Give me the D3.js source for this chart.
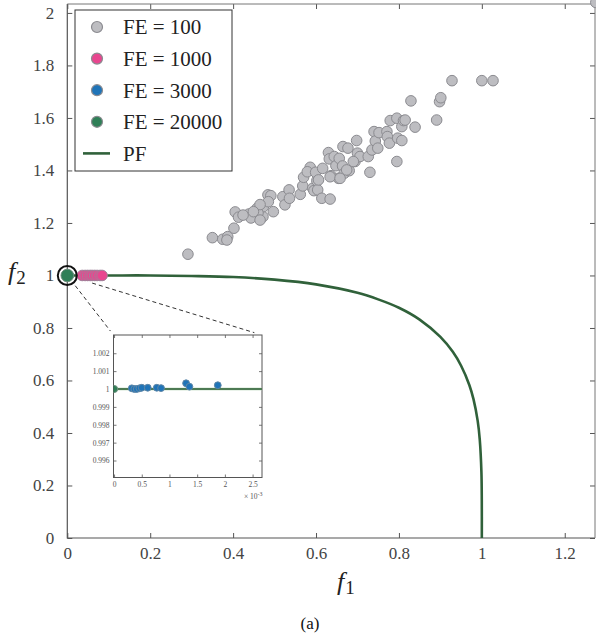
<!DOCTYPE html>
<html>
<head>
<meta charset="utf-8">
<script src="https://cdn.jsdelivr.net/npm/d3@7"></script>
<style>
  body { margin: 0; background: #fff; }
</style>
</head>
<body>
<svg id="chart" width="596" height="634"></svg>
<script>
// Data
const fe100 = [
  [0.291,1.081],[0.350,1.144],[0.375,1.138],[0.387,1.148],[0.385,1.135],[0.402,1.180],[0.405,1.242],
  [0.413,1.222],[0.438,1.234],[0.453,1.234],[0.458,1.256],[0.472,1.224],[0.473,1.262],[0.484,1.307],
  [0.491,1.304],[0.497,1.243],[0.485,1.281],[0.520,1.300],[0.525,1.269],[0.535,1.326],[0.536,1.294],
  [0.562,1.309],[0.568,1.341],[0.570,1.374],[0.586,1.412],[0.579,1.395],[0.592,1.332],[0.595,1.323],
  [0.602,1.361],[0.604,1.326],[0.614,1.294],[0.634,1.291],[0.599,1.393],[0.616,1.408],[0.630,1.468],
  [0.632,1.444],[0.636,1.380],[0.644,1.453],[0.648,1.418],[0.654,1.370],[0.656,1.446],[0.664,1.417],
  [0.665,1.491],[0.668,1.389],[0.677,1.485],[0.680,1.399],[0.694,1.434],[0.698,1.514],[0.700,1.466],
  [0.706,1.453],[0.726,1.453],[0.730,1.393],[0.735,1.478],[0.740,1.548],[0.743,1.512],[0.749,1.485],
  [0.752,1.544],[0.771,1.548],[0.772,1.529],[0.777,1.504],[0.779,1.590],[0.795,1.599],[0.795,1.434],
  [0.797,1.523],[0.807,1.567],[0.807,1.514],[0.811,1.590],[0.815,1.592],[0.829,1.665],[0.839,1.565],
  [0.891,1.592],[0.898,1.662],[0.901,1.677],[0.928,1.742],[1.000,1.742],[1.027,1.742],
  [0.634,1.376],[0.658,1.370],[0.690,1.434],[0.674,1.402],[0.606,1.364],[0.460,1.238],[0.443,1.219],
  [0.424,1.230],[0.465,1.211],[0.465,1.270],[0.449,1.243],[1.275,2.040]
];
const fe1000 = [
  [0.036,1.0],[0.043,1.0],[0.049,1.0],[0.055,1.0],[0.060,1.0],[0.066,1.0],[0.072,1.0],[0.079,1.0],[0.084,1.0]
];
const fe3000 = [
  [0.00032,1.00004],[0.000366,1.0],[0.00041,1.0],[0.000457,1.00004],[0.0005,1.00007],[0.000608,1.00007],
  [0.000771,1.00007],[0.000848,1.00005],[0.0013,1.00032],[0.00136,1.00013],[0.001872,1.00021]
];
const fe20000 = [[0, 1]];

const pfF1 = [0, 0.1, 0.2, 0.3, 0.4, 0.5, 0.6, 0.7, 0.75, 0.8, 0.85, 0.9, 0.93, 0.95, 0.97, 0.98, 0.99, 0.995, 0.999, 0.9999, 1.0];
const pfF2 = [1, 1.0, 1.0, 0.998, 0.994, 0.984, 0.966, 0.934, 0.909, 0.877, 0.832, 0.766, 0.709, 0.656, 0.582, 0.528, 0.446, 0.375, 0.251, 0.141, 0];

const xTicks = [0, 0.2, 0.4, 0.6, 0.8, 1, 1.2];
const yTicks = [0, 0.2, 0.4, 0.6, 0.8, 1, 1.2, 1.4, 1.6, 1.8, 2];
const insetXTicks = [0, 0.0005, 0.001, 0.0015, 0.002, 0.0025];
const insetYTicks = [0.996, 0.997, 0.998, 0.999, 1, 1.001, 1.002];

const legendItems = [
  { label: "FE = 100", type: "dot", color: "#bdbdc1" },
  { label: "FE = 1000", type: "dot", color: "#e8468f" },
  { label: "FE = 3000", type: "dot", color: "#1f74b8" },
  { label: "FE = 20000", type: "dot", color: "#2f7f57" },
  { label: "PF", type: "line", color: "#30613a" }
];

const pfData = pfF1.map((d, i) => [d, pfF2[i]]);
const axisColor = "#555";
const FONT = "'Liberation Serif'";

const svg = d3.select("#chart");

// Main plot scales
const plot = { left: 67.3, right: 595, top: 4, bottom: 538 };
const x = d3.scaleLinear().domain([0, 1.273]).range([plot.left, plot.right]);
const y = d3.scaleLinear().domain([0, 2.034]).range([plot.bottom, plot.top]);

function styleAxis(g) {
  g.attr("font-family", null);
  g.select(".domain").remove();
  g.selectAll(".tick line").attr("stroke", axisColor).attr("stroke-width", 1);
  g.selectAll(".tick text").attr("fill", "#444").style("font-family", FONT).style("font-size", "17px");
}

// Axes with inward ticks on all sides
svg.append("g")
  .attr("transform", `translate(0,${plot.bottom})`)
  .call(d3.axisBottom(x).tickValues(xTicks).tickFormat(d3.format("~g")).tickSizeInner(-5).tickSizeOuter(0).tickPadding(9))
  .call(styleAxis);
svg.append("g")
  .attr("transform", `translate(0,${plot.top})`)
  .call(d3.axisTop(x).tickValues(xTicks).tickFormat("").tickSizeInner(-5).tickSizeOuter(0))
  .call(styleAxis);
svg.append("g")
  .attr("transform", `translate(${plot.left},0)`)
  .call(d3.axisLeft(y).tickValues(yTicks).tickFormat(d3.format("~g")).tickSizeInner(-5).tickSizeOuter(0).tickPadding(13))
  .call(styleAxis);
svg.append("g")
  .attr("transform", `translate(${plot.right},0)`)
  .call(d3.axisRight(y).tickValues(yTicks).tickFormat("").tickSizeInner(-5).tickSizeOuter(0))
  .call(styleAxis);

// Left and bottom box lines
svg.append("path")
  .attr("d", `M${plot.left},${plot.top}V${plot.bottom}H${plot.right}`)
  .attr("fill", "none").attr("stroke", axisColor).attr("stroke-width", 1.2);
svg.append("path")
  .attr("d", `M${plot.left},${plot.top}H${plot.right}V${plot.bottom}`)
  .attr("fill", "none").attr("stroke", "#777").attr("stroke-width", 1);

// Axis labels
function labelText(px, py, sub) {
  const t = svg.append("text").attr("x", px).attr("y", py)
    .style("font-family", FONT).style("font-size", "26px").attr("fill", "#222");
  t.append("tspan").style("font-style", "italic").text("f");
  t.append("tspan").attr("dx", 1).attr("dy", 4).style("font-size", "19px").text(sub);
}
labelText(337, 590, "1");
labelText(8, 280, "2");

svg.append("text").attr("x", 310).attr("y", 629).attr("text-anchor", "middle")
  .style("font-family", FONT).style("font-size", "17px").attr("fill", "#111").text("(a)");

// Pareto front
const line = d3.line().x(d => x(d[0])).y(d => y(d[1])).curve(d3.curveCatmullRom);
svg.append("path").datum(pfData)
  .attr("d", line)
  .attr("fill", "none").attr("stroke", "#30613a").attr("stroke-width", 2.6);

// Points
function drawDots(parent, data, sx, sy, r, fill, stroke) {
  parent.append("g").selectAll("circle").data(data).join("circle")
    .attr("cx", d => sx(d[0])).attr("cy", d => sy(d[1])).attr("r", r)
    .attr("fill", fill).attr("stroke", stroke).attr("stroke-width", 1);
}
drawDots(svg, fe100, x, y, 5.3, "#bdbdc1", "#8b8b90");
drawDots(svg, fe1000, x, y, 5.3, "#e8468f", "#a0829a");
drawDots(svg, fe3000, x, y, 5.3, "#1f74b8", "#6f8aa0");
drawDots(svg, fe20000, x, y, 6.3, "#2f7f57", "#6f8f7d");

// Highlight ring around the converged point
const cx0 = x(0), cy0 = y(1);
svg.append("circle").attr("cx", cx0).attr("cy", cy0).attr("r", 9.5)
  .attr("fill", "none").attr("stroke", "#111").attr("stroke-width", 2);

// Inset
const inset = { left: 113.5, right: 262, top: 335, bottom: 477.5 };
const ix = d3.scaleLinear().domain([-0.00001, 0.00267]).range([inset.left, inset.right]);
const iy = d3.scaleLinear().domain([0.99505, 1.00302]).range([inset.bottom, inset.top]);

// dashed connectors
function connector(tx, ty, startGap, endGap) {
  const dx = tx - cx0, dy = ty - cy0, len = Math.hypot(dx, dy);
  svg.append("line")
    .attr("x1", cx0 + dx / len * startGap).attr("y1", cy0 + dy / len * startGap)
    .attr("x2", tx - dx / len * endGap).attr("y2", ty - dy / len * endGap)
    .attr("stroke", "#333").attr("stroke-width", 1).attr("stroke-dasharray", "4,3");
}
connector(inset.left, inset.top, 13, 5);
connector(inset.right, inset.top, 26, 8);

svg.append("rect").attr("x", inset.left).attr("y", inset.top)
  .attr("width", inset.right - inset.left).attr("height", inset.bottom - inset.top)
  .attr("fill", "#fff");

svg.append("clipPath").attr("id", "insetClip").append("rect")
  .attr("x", inset.left).attr("y", inset.top)
  .attr("width", inset.right - inset.left).attr("height", inset.bottom - inset.top);

function styleInset(g) {
  g.attr("font-family", null);
  g.select(".domain").remove();
  g.selectAll(".tick line").attr("stroke", axisColor).attr("stroke-width", 0.8);
  g.selectAll(".tick text").attr("fill", "#555").style("font-size", "7.5px").style("font-family", FONT);
}
svg.append("g").attr("transform", `translate(0,${inset.bottom})`)
  .call(d3.axisBottom(ix).tickValues(insetXTicks).tickFormat(d => d3.format("~g")(+(d * 1000).toFixed(1))).tickSizeInner(-3).tickSizeOuter(0).tickPadding(4))
  .call(styleInset);
svg.append("g").attr("transform", `translate(0,${inset.top})`)
  .call(d3.axisTop(ix).tickValues(insetXTicks).tickFormat("").tickSizeInner(-3).tickSizeOuter(0))
  .call(styleInset);
svg.append("g").attr("transform", `translate(${inset.left},0)`)
  .call(d3.axisLeft(iy).tickValues(insetYTicks).tickFormat(d3.format("~g")).tickSizeInner(-3).tickSizeOuter(0).tickPadding(4))
  .call(styleInset);
svg.append("g").attr("transform", `translate(${inset.right},0)`)
  .call(d3.axisRight(iy).tickValues(insetYTicks).tickFormat("").tickSizeInner(-3).tickSizeOuter(0))
  .call(styleInset);

svg.append("rect").attr("x", inset.left).attr("y", inset.top)
  .attr("width", inset.right - inset.left).attr("height", inset.bottom - inset.top)
  .attr("fill", "none").attr("stroke", axisColor).attr("stroke-width", 1);

const exp = svg.append("text").attr("x", 244).attr("y", 499)
  .style("font-family", FONT).style("font-size", "7.5px").attr("fill", "#555");
exp.append("tspan").text("\u00d7 10");
exp.append("tspan").attr("dy", -3).style("font-size", "6px").text("-3");

const insetG = svg.append("g").attr("clip-path", "url(#insetClip)");
const iline = d3.line().x(d => ix(d[0])).y(d => iy(d[1]));
insetG.append("path").datum(pfData.slice(0, 2))
  .attr("d", iline).attr("fill", "none").attr("stroke", "#a9c9a9").attr("stroke-width", 2.6);
insetG.append("path").datum(pfData.slice(0, 2))
  .attr("d", iline).attr("fill", "none").attr("stroke", "#2f5f37").attr("stroke-width", 1.3);
drawDots(insetG, fe3000, ix, iy, 3.4, "#1f74b8", "#5f86a6");
drawDots(insetG, fe20000, ix, iy, 3.6, "#2f7f57", "#6f8f7d");

// Legend
const legend = svg.append("g");
legend.append("rect").attr("x", 75).attr("y", 10).attr("width", 157).attr("height", 161)
  .attr("fill", "#fff").attr("stroke", "#333").attr("stroke-width", 1);
legendItems.forEach((d, i) => {
  const ly = 27 + i * 31.6;
  if (d.type === "dot") {
    legend.append("circle").attr("cx", 97).attr("cy", ly).attr("r", 5.5)
      .attr("fill", d.color).attr("stroke", "#8b8b90").attr("stroke-width", 1.2);
  } else {
    legend.append("line").attr("x1", 83).attr("x2", 110).attr("y1", ly).attr("y2", ly)
      .attr("stroke", d.color).attr("stroke-width", 2.6);
  }
  legend.append("text").attr("x", 123).attr("y", ly).attr("dy", "0.35em")
    .style("font-family", FONT).style("font-size", "21px").attr("fill", "#222").text(d.label);
});
</script>
</body>
</html>
